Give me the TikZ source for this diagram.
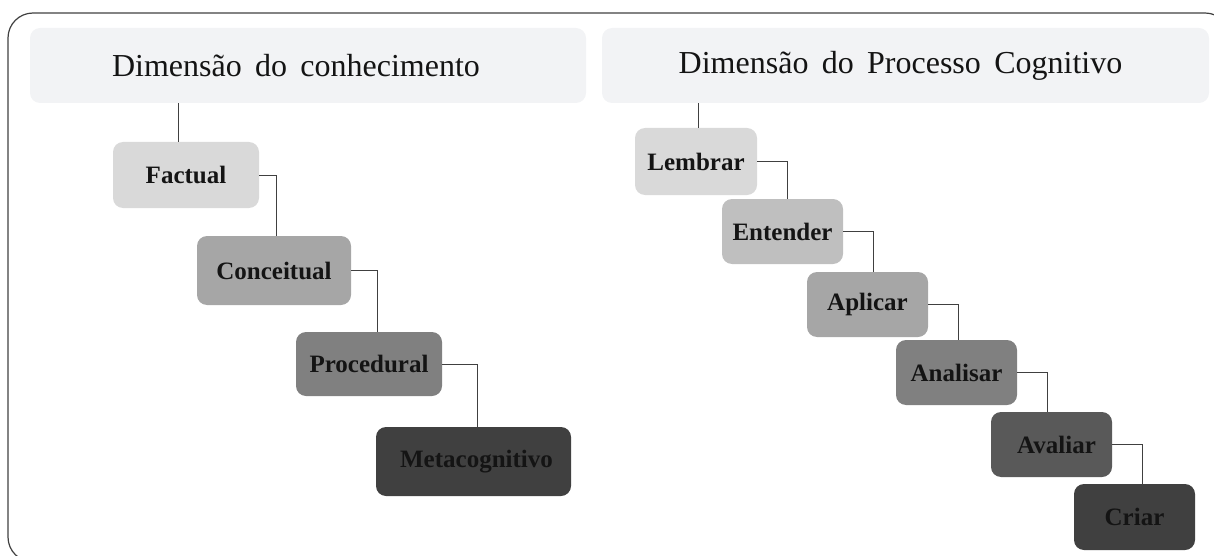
\documentclass[tikz,border=0pt]{standalone}
\usepackage{fontspec}
\setmainfont{Liberation Serif}
\usepackage{xcolor}
\definecolor{headgray}{RGB}{242,243,245}
\definecolor{gray1}{RGB}{217,217,217}
\definecolor{gray2}{RGB}{191,191,191}
\definecolor{gray3}{RGB}{166,166,166}
\definecolor{gray4}{RGB}{128,128,128}
\definecolor{gray5}{RGB}{89,89,89}
\definecolor{gray6}{RGB}{64,64,64}
\definecolor{inkgray}{RGB}{20,20,20}
\definecolor{linegray}{RGB}{64,64,64}
\usepackage{tikz}

\begin{document}
\begin{tikzpicture}[x=1pt, y=-1pt,
    header/.style={fill=headgray, rounded corners=10pt, inner sep=0pt,
        minimum height=75pt, text=inkgray,
        font=\fontsize{32}{36}\selectfont},
    level/.style={rounded corners=10pt, inner sep=0pt, text=inkgray,
        font=\fontsize{25}{29}\selectfont\bfseries},
    link/.style={draw=linegray, line width=0.9pt}
]
                \useasboundingbox (0,0) rectangle (1214,556);
                \draw [linegray, line width=1.2pt, rounded corners=25pt] (8,13) rectangle (1230,562);

                % column headers
                \node [header, minimum width=556pt] (hdK) at (308,65.5) {Dimensão\, do\, conhecimento\rule{24pt}{0pt}};
                \node [header, minimum width=607pt] (hdP) at (905.5,65.5) {Dimensão\, do\, Processo\, Cognitivo\rule{10pt}{0pt}};

                % knowledge levels
                \node [level, fill=gray1, minimum width=146pt, minimum height=66pt] (fact) at (186,175) {Factual};
                \node [level, fill=gray3, minimum width=154pt, minimum height=69pt] (conc) at (274,270.5) {Conceitual};
                \node [level, fill=gray4, minimum width=146pt, minimum height=64pt] (proc) at (369,364) {Procedural};
                \node [level, fill=gray6, minimum width=195pt, minimum height=69pt] (meta) at (473.5,461.5) {\hspace{6pt}Metacognitivo};

                % process levels
                \node [level, fill=gray1, minimum width=122pt, minimum height=67pt] (lemb) at (696,161.5) {Lembrar};
                \node [level, fill=gray2, minimum width=121pt, minimum height=65pt] (ente) at (782.5,231.5) {Entender};
                \node [level, fill=gray3, minimum width=121pt, minimum height=65pt] (apli) at (867.5,304.5) {Aplicar};
                \node [level, fill=gray4, minimum width=121pt, minimum height=65pt] (anal) at (956.5,372.5) {Analisar};
                \node [level, fill=gray5, minimum width=121pt, minimum height=65pt] (aval) at (1051.5,444.5) {\hspace{10pt}Avaliar};
                \node [level, fill=gray6, minimum width=121pt, minimum height=66pt] (cria) at (1134.5,517) {Criar};

                % connectors
                \draw [link] ([xshift=-8pt]fact.north) -- ([xshift=-8pt]fact.north |- hdK.south);
                \draw [link] (fact.east) -| ([xshift=2pt]conc.north);
                \draw [link] (conc.east) -| ([xshift=8pt]proc.north);
                \draw [link] (proc.east) -| ([xshift=3.5pt]meta.north);

                \draw [link] ([xshift=2pt]lemb.north) -- ([xshift=2pt]lemb.north |- hdP.south);
                \draw [link] (lemb.east) -| ([xshift=4.5pt]ente.north);
                \draw [link] (ente.east) -| ([xshift=5.5pt]apli.north);
                \draw [link] (apli.east) -| ([xshift=1.5pt]anal.north);
                \draw [link] (anal.east) -| ([xshift=-4.5pt]aval.north);
                \draw [link] (aval.east) -| ([xshift=7.5pt]cria.north);
            \end{tikzpicture}
\end{document}
